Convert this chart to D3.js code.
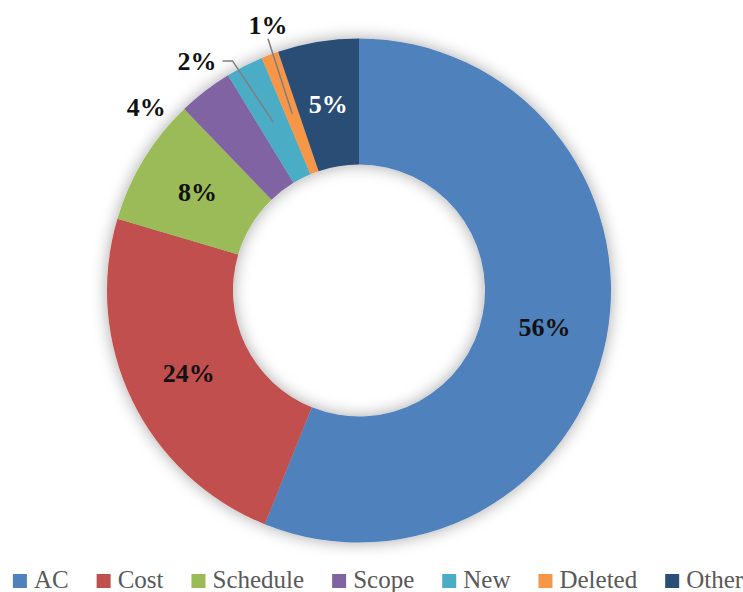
<!DOCTYPE html>
<html>
<head>
<meta charset="utf-8">
<script src="https://cdn.jsdelivr.net/npm/d3@7/dist/d3.min.js"></script>
<style>
  body { margin: 0; background: #fff; }
  text { font-family: "Liberation Serif", "DejaVu Serif", serif; }
</style>
</head>
<body>
<div class="graph"></div>
<script>
// data
var categories = ["AC", "Cost", "Schedule", "Scope", "New", "Deleted", "Other"];
var values = [56.1, 23.5, 8.2, 3.5, 2.4, 1.1, 5.2];
var pctLabels = ["56%", "24%", "8%", "4%", "2%", "1%", "5%"];
var colors = ["#4F81BD", "#C0504D", "#9BBB59", "#8064A2", "#4BACC6", "#F79646", "#2C4D75"];

// which labels sit outside the ring, with an angle nudge (degrees) and leader style
var outside = {
  3: {shift: -11.6, leader: "none"},
  4: {shift: -8.2, leader: "side"},
  5: {shift: 1.8, leader: "below"}
};

// set the dimensions of the graph
var width = 743,
    height = 592,
    cx = 359,
    cy = 290.5,
    outerR = 252,
    innerR = 126,
    labelR = 281;

var svg = d3.select(".graph").append("svg")
    .attr("width", width)
    .attr("height", height);

// soft shadow round the ring
var defs = svg.append("defs");
var filter = defs.append("filter")
    .attr("id", "shadow")
    .attr("x", "-20%").attr("y", "-20%")
    .attr("width", "140%").attr("height", "140%");
filter.append("feDropShadow")
    .attr("dx", 0).attr("dy", 0)
    .attr("stdDeviation", 8)
    .attr("flood-color", "#000")
    .attr("flood-opacity", 0.35);

var g = svg.append("g")
    .attr("transform", "translate(" + cx + "," + cy + ")");

var pie = d3.pie()
    .sort(null)
    .value(function(d) { return d; });

var arc = d3.arc()
    .innerRadius(innerR)
    .outerRadius(outerR);

var arcs = pie(values);

// the slices
g.append("g")
    .attr("filter", "url(#shadow)")
  .selectAll("path")
    .data(arcs)
    .enter().append("path")
    .attr("fill", function(d, i) { return colors[i]; })
    .attr("d", arc);

function polar(angle, r) {
  return [r * Math.sin(angle), -r * Math.cos(angle)];
}

// labels
arcs.forEach(function(d, i) {
  var c = arc.centroid(d);
  var pos = c;
  var o = outside[i];
  if (o) {
    var mid = (d.startAngle + d.endAngle) / 2 + o.shift * Math.PI / 180;
    pos = polar(mid, labelR);
  }
  var t = g.append("text")
      .attr("x", pos[0])
      .attr("y", pos[1])
      .attr("dy", "0.35em")
      .attr("text-anchor", "middle")
      .style("font-size", "26px")
      .style("font-weight", "bold")
      .style("fill", i === 6 ? "#fff" : "#111")
      .text(pctLabels[i]);

  if (o && o.leader !== "none") {
    var bb = t.node().getBBox();
    var pts;
    if (o.leader === "side") {
      var sx = bb.x + bb.width + 6;
      pts = [[sx, pos[1]], [sx + 10, pos[1]], c];
    } else {
      pts = [[pos[0], bb.y + bb.height - 1], c];
    }
    g.append("path")
        .attr("d", d3.line()(pts))
        .attr("fill", "none")
        .attr("stroke", "#7F7F7F")
        .attr("stroke-width", 1.5);
  }
});

// legend along the bottom
var legend = svg.append("g");
var lx = 0;
var gap = 28;
categories.forEach(function(name, i) {
  var item = legend.append("g").attr("transform", "translate(" + lx + ",0)");
  item.append("rect")
      .attr("x", 0)
      .attr("y", 574)
      .attr("width", 14)
      .attr("height", 14)
      .attr("fill", colors[i]);
  var t = item.append("text")
      .attr("x", 21)
      .attr("y", 588)
      .style("font-size", "25px")
      .style("fill", "#595959")
      .text(name);
  lx += 21 + t.node().getComputedTextLength() + gap;
});
var total = lx - gap;
legend.attr("transform", "translate(" + (378 - total / 2) + ",0)");
</script>
</body>
</html>
